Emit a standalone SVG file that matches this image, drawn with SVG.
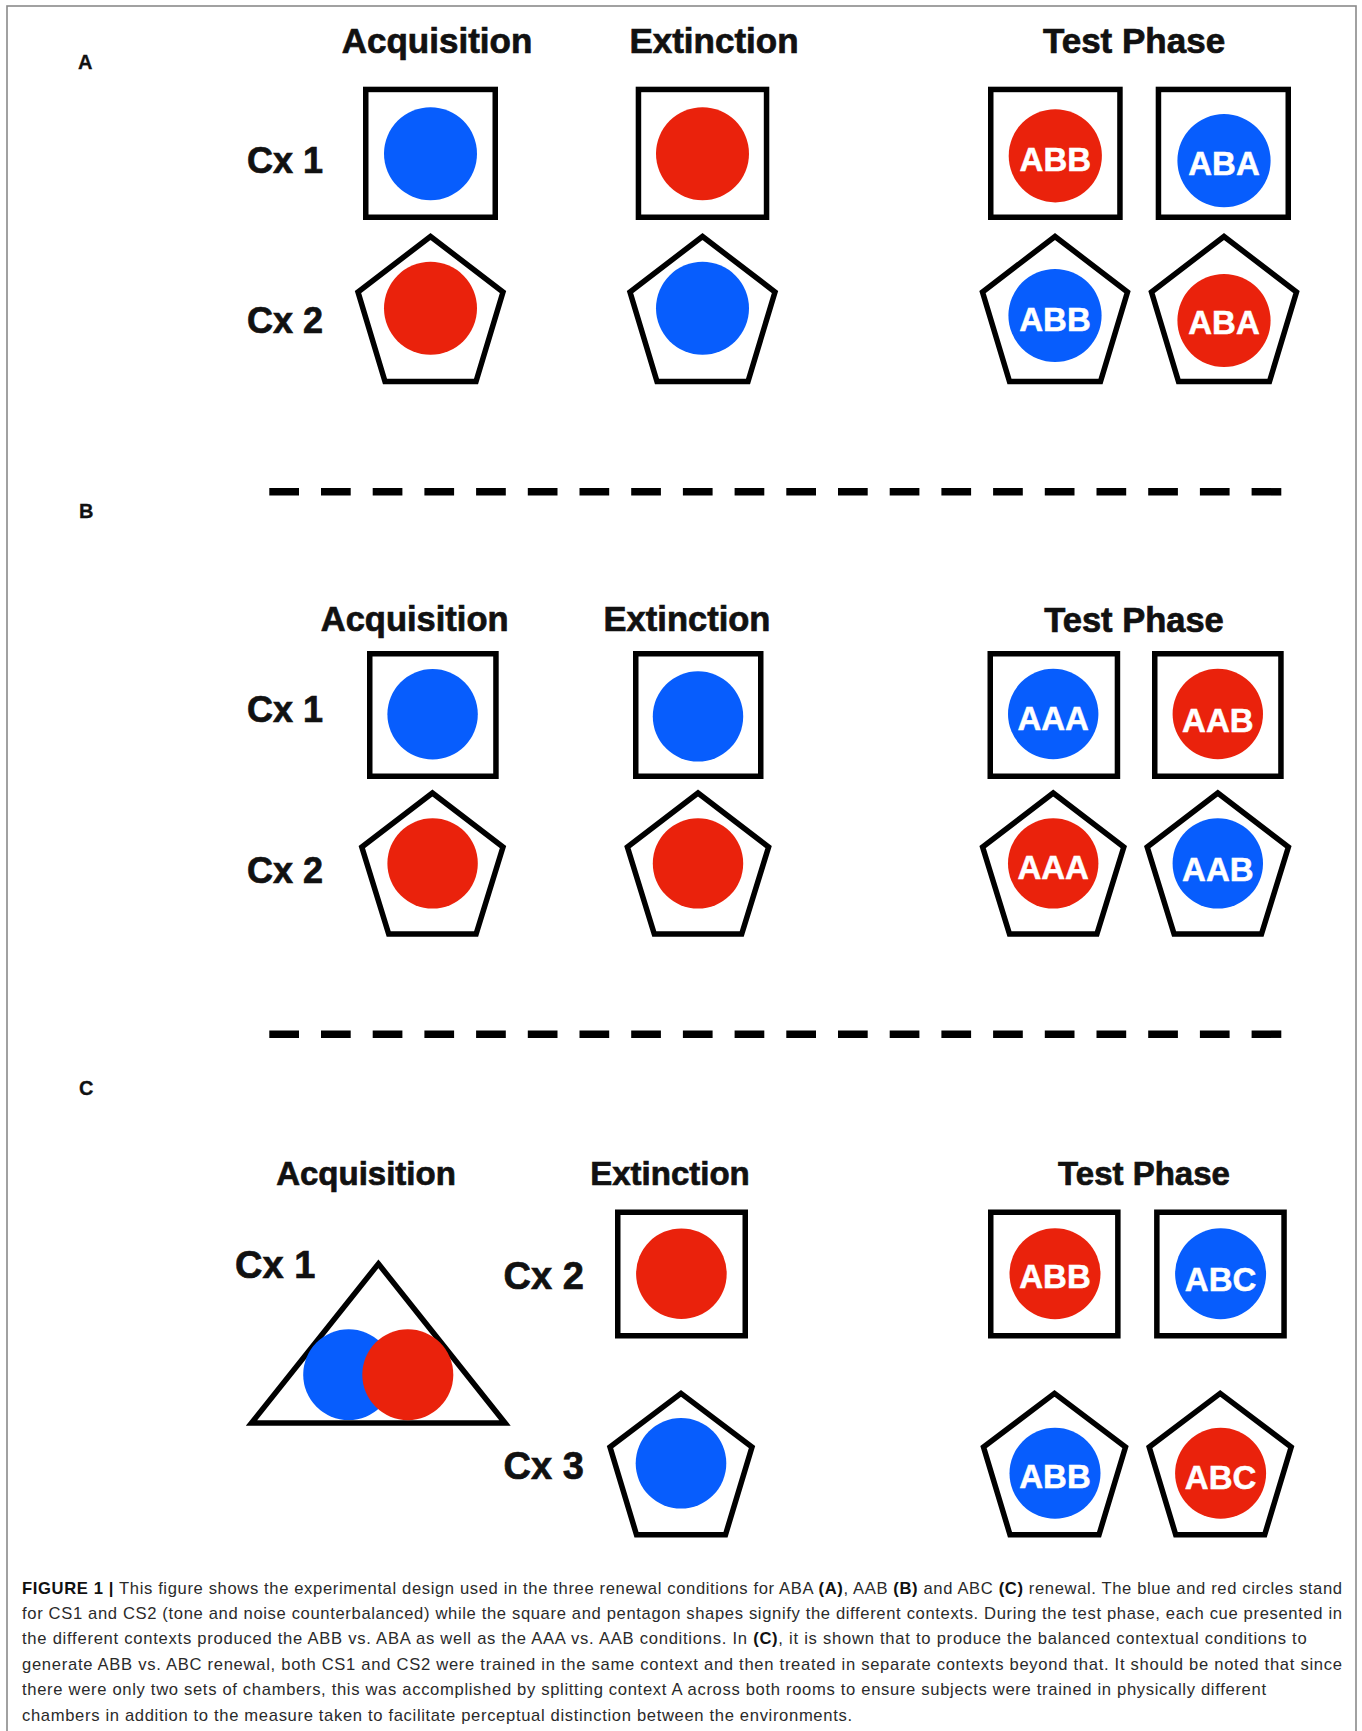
<svg xmlns="http://www.w3.org/2000/svg" width="1362" height="1731" viewBox="0 0 1362 1731">
<style>
.bg{fill:#fff}
.frame{fill:none;stroke:#8a8a8a;stroke-width:1.6}
.shp{fill:#fff;stroke:#000;stroke-width:5.5;stroke-linejoin:miter}
.blue{fill:#075dfd}
.red{fill:#ea220c}
.t{font-family:"Liberation Sans",Arial,Helvetica,sans-serif;font-weight:bold;fill:#111;stroke:#111;stroke-width:0.7}
.hA{font-size:35px;text-anchor:middle}
.hB{font-size:34.5px;text-anchor:middle}
.hC{font-size:33px;text-anchor:middle}
.cx{font-size:36px}
.cxC{font-size:38px}
.sec{font-size:20px;stroke-width:0.3}
.in{font-family:"Liberation Sans",Arial,Helvetica,sans-serif;font-weight:bold;fill:#fff;stroke:#fff;stroke-width:0.5;text-anchor:middle;font-size:33px}
.dash{stroke:#000;stroke-width:7.5;stroke-dasharray:29.7 22;fill:none}
.cap{font-family:"Liberation Sans",Arial,Helvetica,sans-serif;font-size:16.6px;fill:#2a2a2a}
.b{font-weight:bold;fill:#111}
</style>
<rect class="bg" x="0" y="0" width="1362" height="1731"/>
<rect class="frame" x="7" y="6" width="1349" height="1740"/>

<!-- Section A -->
<g id="sectionA">
<text class="t sec" x="78" y="69.3">A</text>
<text class="t hA" x="437" y="53.3">Acquisition</text>
<text class="t hA" x="714" y="53.3">Extinction</text>
<text class="t hA" x="1134" y="53.3">Test Phase</text>
<text class="t cx" x="247" y="172.7">Cx 1</text>
<text class="t cx" x="247" y="333.3">Cx 2</text>
</g>
<g id="A-acq-cx1"><rect class="shp" x="365.75" y="89.45" width="129.5" height="127.8"/><circle class="blue" cx="430.5" cy="153.7" r="46.5"/></g>
<g id="A-acq-cx2"><polygon class="shp" points="430.5,236.5 503,292 476,381.5 385,381.5 358,292"/><circle class="red" cx="430.5" cy="308.3" r="46.5"/></g>
<g id="A-ext-cx1"><rect class="shp" x="638.45" y="89.45" width="128.1" height="127.8"/><circle class="red" cx="702.5" cy="153.7" r="46.5"/></g>
<g id="A-ext-cx2"><polygon class="shp" points="702.5,236.5 775,292 748,381.5 657,381.5 630,292"/><circle class="blue" cx="702.5" cy="308.3" r="46.5"/></g>
<g id="A-test-sq1"><rect class="shp" x="990.75" y="89.45" width="129.2" height="127.8"/><circle class="red" cx="1055.3" cy="155.8" r="46.6"/><text class="in" x="1055.3" y="170.7">ABB</text></g>
<g id="A-test-sq2"><rect class="shp" x="1158.45" y="89.45" width="129.8" height="127.8"/><circle class="blue" cx="1224" cy="160.7" r="46.6"/><text class="in" x="1224" y="174.5">ABA</text></g>
<g id="A-test-pent1"><polygon class="shp" points="1055,236.5 1127.5,292 1100.5,381.5 1009.5,381.5 982.5,292"/><circle class="blue" cx="1055" cy="315.5" r="46.6"/><text class="in" x="1055" y="331">ABB</text></g>
<g id="A-test-pent2"><polygon class="shp" points="1224,236.5 1296.5,292 1269.5,381.5 1178.5,381.5 1151.5,292"/><circle class="red" cx="1224" cy="320.5" r="46.6"/><text class="in" x="1224" y="334">ABA</text></g>

<!-- Section B -->
<g id="sectionB">
<text class="t sec" x="79" y="517.6">B</text>
<text class="t hB" x="414.7" y="631">Acquisition</text>
<text class="t hB" x="687" y="631">Extinction</text>
<text class="t hB" x="1134" y="632">Test Phase</text>
<text class="t cx" x="247" y="721.8">Cx 1</text>
<text class="t cx" x="247" y="882.5">Cx 2</text>
</g>
<g id="B-acq-cx1"><rect class="shp" x="369.75" y="653.75" width="126.2" height="122.5"/><circle class="blue" cx="432.6" cy="714.3" r="45.2"/></g>
<g id="B-acq-cx2"><polygon class="shp" points="432.4,793 503,847 476.1,934 388.7,934 361.8,847"/><circle class="red" cx="432.6" cy="863.4" r="45.2"/></g>
<g id="B-ext-cx1"><rect class="shp" x="635.75" y="653.75" width="125" height="122.5"/><circle class="blue" cx="698" cy="716.4" r="45.2"/></g>
<g id="B-ext-cx2"><polygon class="shp" points="698,793 768.6,847 741.7,934 654.3,934 627.4,847"/><circle class="red" cx="698" cy="863.4" r="45.2"/></g>
<g id="B-test-sq1"><rect class="shp" x="990.25" y="653.75" width="127.2" height="122.5"/><circle class="blue" cx="1053.2" cy="714" r="45.2"/><text class="in" x="1053.2" y="730">AAA</text></g>
<g id="B-test-sq2"><rect class="shp" x="1154.75" y="653.75" width="126.2" height="122.5"/><circle class="red" cx="1217.8" cy="714" r="45.2"/><text class="in" x="1217.8" y="732">AAB</text></g>
<g id="B-test-pent1"><polygon class="shp" points="1053.2,793 1123.8,847 1096.9,934 1009.5,934 982.6,847"/><circle class="red" cx="1053.2" cy="863.4" r="45.2"/><text class="in" x="1053.2" y="879">AAA</text></g>
<g id="B-test-pent2"><polygon class="shp" points="1217.8,793 1288.4,847 1261.5,934 1174.1,934 1147.2,847"/><circle class="blue" cx="1217.8" cy="863.4" r="45.2"/><text class="in" x="1217.8" y="880.5">AAB</text></g>

<!-- Section C -->
<g id="sectionC">
<text class="t sec" x="79" y="1095">C</text>
<text class="t hC" x="366" y="1184.5">Acquisition</text>
<text class="t hC" x="670" y="1184.5">Extinction</text>
<text class="t hC" x="1144" y="1185">Test Phase</text>
<text class="t cxC" x="235" y="1278.3">Cx 1</text>
<text class="t cxC" x="503.5" y="1289">Cx 2</text>
<text class="t cxC" x="503.5" y="1479">Cx 3</text>
</g>
<g id="C-acq-cx1"><polygon class="shp" points="378.4,1263.8 505,1423 251.5,1423"/><circle class="blue" cx="348.6" cy="1374.7" r="45.4"/><circle class="red" cx="407.8" cy="1374.7" r="45.5"/></g>
<g id="C-ext-cx2"><rect class="shp" x="617.75" y="1212.25" width="127.5" height="123.5"/><circle class="red" cx="681.4" cy="1273.7" r="45.3"/></g>
<g id="C-ext-cx3"><polygon class="shp" points="681,1393.4 752,1447 725.5,1534.7 636.5,1534.7 610,1447"/><circle class="blue" cx="681" cy="1463.3" r="45.3"/></g>
<g id="C-test-sq1"><rect class="shp" x="990.75" y="1212.25" width="127.1" height="123.5"/><circle class="red" cx="1055" cy="1273.7" r="45.5"/><text class="in" x="1055" y="1288.3">ABB</text></g>
<g id="C-test-sq2"><rect class="shp" x="1156.85" y="1212.25" width="127.2" height="123.5"/><circle class="blue" cx="1220.6" cy="1273.7" r="45.5"/><text class="in" x="1220.6" y="1290.5">ABC</text></g>
<g id="C-test-pent1"><polygon class="shp" points="1054.5,1393.4 1125.5,1447 1099,1534.7 1010,1534.7 983.5,1447"/><circle class="blue" cx="1055" cy="1473.3" r="45.5"/><text class="in" x="1055" y="1487.7">ABB</text></g>
<g id="C-test-pent2"><polygon class="shp" points="1220.2,1393.4 1291.2,1447 1264.7,1534.7 1175.7,1534.7 1149.2,1447"/><circle class="red" cx="1220.6" cy="1473.3" r="45.5"/><text class="in" x="1220.6" y="1489.3">ABC</text></g>

<!-- Separators -->
<g id="connectors">
<line class="dash" x1="269.3" y1="491.8" x2="1281.5" y2="491.8"/>
<line class="dash" x1="269.3" y1="1034.2" x2="1281.5" y2="1034.2"/>
</g>

<!-- Caption -->
<g id="caption">
<text class="cap" x="22" y="1593.5" textLength="1320" lengthAdjust="spacing"><tspan class="b">FIGURE 1 |</tspan> This figure shows the experimental design used in the three renewal conditions for ABA <tspan class="b">(A)</tspan>, AAB <tspan class="b">(B)</tspan> and ABC <tspan class="b">(C)</tspan> renewal. The blue and red circles stand</text>
<text class="cap" x="22" y="1618.9" textLength="1320" lengthAdjust="spacing">for CS1 and CS2 (tone and noise counterbalanced) while the square and pentagon shapes signify the different contexts. During the test phase, each cue presented in</text>
<text class="cap" x="22" y="1644.3" textLength="1284.7" lengthAdjust="spacing">the different contexts produced the ABB vs. ABA as well as the AAA vs. AAB conditions. In <tspan class="b">(C)</tspan>, it is shown that to produce the balanced contextual conditions to</text>
<text class="cap" x="22" y="1669.7" textLength="1320" lengthAdjust="spacing">generate ABB vs. ABC renewal, both CS1 and CS2 were trained in the same context and then treated in separate contexts beyond that. It should be noted that since</text>
<text class="cap" x="22" y="1695.1" textLength="1244" lengthAdjust="spacing">there were only two sets of chambers, this was accomplished by splitting context A across both rooms to ensure subjects were trained in physically different</text>
<text class="cap" x="22" y="1720.5" textLength="830" lengthAdjust="spacing">chambers in addition to the measure taken to facilitate perceptual distinction between the environments.</text>
</g>
</svg>
